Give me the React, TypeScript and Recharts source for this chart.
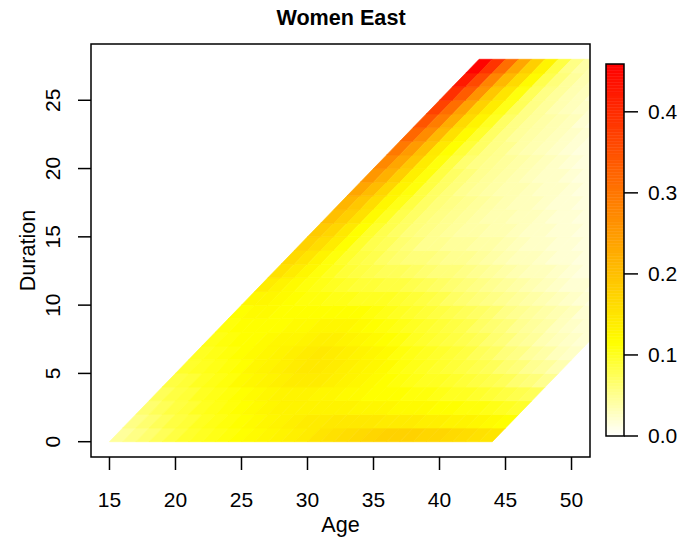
import React from 'react';
import { ComposedChart, XAxis, YAxis, ReferenceArea } from 'recharts';

const FONT = '"Liberation Sans", Arial, Helvetica, sans-serif';

// Entry age (age at start of duration) for each diagonal band of cells
const entryAges = [15, 16, 17, 18, 19, 20, 21, 22, 23, 24, 25, 26, 27, 28, 29, 30, 31, 32, 33, 34, 35, 36, 37, 38, 39, 40, 41, 42, 43];
// Duration (years) for each row of cells
const durations = [0, 1, 2, 3, 4, 5, 6, 7, 8, 9, 10, 11, 12, 13, 14, 15, 16, 17, 18, 19, 20, 21, 22, 23, 24, 25, 26, 27];
// Rate values per duration row, entries by entry age starting at 15 (visible cells only)
const rateRows: number[][] = [
  [0.045, 0.055, 0.065, 0.075, 0.085, 0.095, 0.1, 0.105, 0.11, 0.115, 0.12, 0.125, 0.13, 0.135, 0.14, 0.15, 0.155, 0.16, 0.165, 0.17, 0.175, 0.175, 0.175, 0.17, 0.17, 0.165, 0.16, 0.155, 0.15],
  [0.055, 0.065, 0.075, 0.085, 0.09, 0.1, 0.105, 0.11, 0.115, 0.12, 0.125, 0.13, 0.135, 0.14, 0.14, 0.145, 0.145, 0.145, 0.145, 0.14, 0.14, 0.14, 0.135, 0.135, 0.13, 0.13, 0.125, 0.12, 0.115],
  [0.065, 0.075, 0.085, 0.09, 0.1, 0.105, 0.11, 0.115, 0.12, 0.125, 0.13, 0.13, 0.13, 0.13, 0.13, 0.13, 0.125, 0.125, 0.125, 0.12, 0.12, 0.12, 0.115, 0.115, 0.11, 0.11, 0.105, 0.1, 0.095],
  [0.075, 0.085, 0.09, 0.1, 0.105, 0.11, 0.115, 0.12, 0.125, 0.13, 0.13, 0.13, 0.125, 0.125, 0.12, 0.12, 0.115, 0.115, 0.115, 0.11, 0.11, 0.105, 0.1, 0.1, 0.095, 0.09, 0.085, 0.08, 0.075],
  [0.085, 0.09, 0.1, 0.105, 0.11, 0.12, 0.125, 0.13, 0.135, 0.14, 0.14, 0.14, 0.135, 0.13, 0.125, 0.12, 0.115, 0.11, 0.105, 0.1, 0.1, 0.095, 0.09, 0.085, 0.08, 0.075, 0.065, 0.06, 0.05],
  [0.095, 0.1, 0.105, 0.11, 0.115, 0.125, 0.13, 0.135, 0.14, 0.145, 0.145, 0.14, 0.135, 0.13, 0.125, 0.12, 0.11, 0.105, 0.1, 0.095, 0.09, 0.085, 0.08, 0.075, 0.065, 0.06, 0.05, 0.045, 0.035],
  [0.1, 0.105, 0.11, 0.115, 0.12, 0.125, 0.13, 0.135, 0.14, 0.145, 0.14, 0.135, 0.13, 0.125, 0.12, 0.11, 0.105, 0.1, 0.095, 0.09, 0.085, 0.075, 0.07, 0.06, 0.055, 0.045, 0.04, 0.03, 0.025],
  [0.105, 0.11, 0.115, 0.115, 0.12, 0.125, 0.125, 0.13, 0.135, 0.135, 0.13, 0.125, 0.12, 0.115, 0.11, 0.1, 0.095, 0.09, 0.085, 0.08, 0.075, 0.065, 0.06, 0.05, 0.045, 0.035, 0.03, 0.025, 0.02],
  [0.11, 0.115, 0.115, 0.115, 0.115, 0.12, 0.12, 0.125, 0.125, 0.125, 0.12, 0.115, 0.11, 0.105, 0.1, 0.095, 0.09, 0.085, 0.08, 0.07, 0.065, 0.06, 0.05, 0.045, 0.04, 0.03, 0.025, 0.02, 0.02],
  [0.115, 0.12, 0.12, 0.115, 0.115, 0.115, 0.115, 0.115, 0.115, 0.115, 0.11, 0.105, 0.1, 0.095, 0.09, 0.085, 0.08, 0.075, 0.07, 0.065, 0.055, 0.05, 0.045, 0.04, 0.035, 0.03, 0.02, 0.02],
  [0.125, 0.125, 0.12, 0.115, 0.11, 0.11, 0.105, 0.105, 0.1, 0.1, 0.1, 0.095, 0.09, 0.085, 0.08, 0.07, 0.065, 0.06, 0.055, 0.05, 0.045, 0.04, 0.035, 0.03, 0.025, 0.02, 0.015],
  [0.14, 0.13, 0.12, 0.11, 0.105, 0.1, 0.095, 0.09, 0.09, 0.085, 0.085, 0.08, 0.075, 0.07, 0.065, 0.06, 0.055, 0.05, 0.045, 0.04, 0.035, 0.03, 0.025, 0.02, 0.02, 0.015],
  [0.155, 0.14, 0.125, 0.11, 0.1, 0.09, 0.085, 0.08, 0.075, 0.075, 0.07, 0.065, 0.06, 0.06, 0.055, 0.05, 0.045, 0.04, 0.035, 0.03, 0.03, 0.025, 0.02, 0.015, 0.015],
  [0.165, 0.15, 0.13, 0.11, 0.095, 0.085, 0.08, 0.07, 0.065, 0.06, 0.06, 0.055, 0.05, 0.05, 0.045, 0.04, 0.035, 0.03, 0.03, 0.025, 0.02, 0.02, 0.015, 0.015],
  [0.175, 0.16, 0.14, 0.115, 0.095, 0.08, 0.075, 0.065, 0.06, 0.05, 0.05, 0.045, 0.045, 0.04, 0.04, 0.035, 0.03, 0.025, 0.025, 0.02, 0.02, 0.015, 0.015],
  [0.185, 0.17, 0.145, 0.115, 0.095, 0.08, 0.07, 0.06, 0.055, 0.05, 0.045, 0.04, 0.04, 0.035, 0.035, 0.03, 0.025, 0.025, 0.02, 0.02, 0.015, 0.015],
  [0.2, 0.18, 0.155, 0.12, 0.1, 0.08, 0.07, 0.06, 0.055, 0.05, 0.045, 0.04, 0.035, 0.035, 0.03, 0.03, 0.025, 0.02, 0.02, 0.015, 0.015],
  [0.215, 0.19, 0.16, 0.125, 0.105, 0.085, 0.07, 0.06, 0.055, 0.05, 0.045, 0.04, 0.035, 0.03, 0.03, 0.025, 0.02, 0.02, 0.015, 0.015],
  [0.235, 0.205, 0.17, 0.13, 0.11, 0.085, 0.07, 0.06, 0.05, 0.045, 0.04, 0.035, 0.035, 0.03, 0.025, 0.025, 0.02, 0.015, 0.015],
  [0.255, 0.22, 0.18, 0.135, 0.11, 0.085, 0.07, 0.06, 0.05, 0.045, 0.04, 0.035, 0.03, 0.025, 0.025, 0.02, 0.015, 0.015],
  [0.275, 0.235, 0.19, 0.14, 0.11, 0.085, 0.065, 0.055, 0.05, 0.045, 0.04, 0.035, 0.03, 0.025, 0.02, 0.015, 0.015],
  [0.295, 0.25, 0.2, 0.145, 0.115, 0.09, 0.07, 0.055, 0.05, 0.04, 0.035, 0.03, 0.025, 0.02, 0.015, 0.015],
  [0.32, 0.27, 0.21, 0.155, 0.12, 0.095, 0.07, 0.055, 0.045, 0.04, 0.035, 0.03, 0.025, 0.02, 0.015],
  [0.345, 0.29, 0.225, 0.165, 0.13, 0.1, 0.07, 0.055, 0.045, 0.04, 0.035, 0.03, 0.02, 0.015],
  [0.37, 0.31, 0.24, 0.175, 0.14, 0.105, 0.075, 0.055, 0.045, 0.035, 0.03, 0.025, 0.02],
  [0.395, 0.335, 0.26, 0.19, 0.15, 0.11, 0.075, 0.055, 0.045, 0.035, 0.03, 0.02],
  [0.425, 0.36, 0.28, 0.21, 0.165, 0.12, 0.08, 0.06, 0.045, 0.035, 0.03],
  [0.455, 0.39, 0.31, 0.235, 0.18, 0.13, 0.085, 0.055, 0.04, 0.035],
];

const ageTicks = [15, 20, 25, 30, 35, 40, 45, 50];
const durationTicks = [0, 5, 10, 15, 20, 25];
const legendTicks = [0, 0.1, 0.2, 0.3, 0.4];
const ageDomain: [number, number] = [13.6, 51.4];
const durationDomain: [number, number] = [-1.12, 29.12];
const zMax = 0.459;

// reversed heat.colors ramp: white -> yellow -> orange -> red
function heatColor(v: number): string {
  const t = Math.max(0, Math.min(1, v / zMax));
  if (t < 0.25) {
    const s = t / 0.25;
    const b = Math.round(255 * (1 - s));
    return `rgb(255,255,${b})`;
  }
  const h = (1 / 6) * (1 - (t - 0.25) / 0.75);
  const g = Math.round(255 * h * 6);
  return `rgb(255,${g},0)`;
}

type Cell = { entry: number; dur: number; rate: number };
const cells: Cell[] = [];
durations.forEach((d, di) => {
  rateRows[di].forEach((r, i) => {
    cells.push({ entry: entryAges[i], dur: d, rate: r });
  });
});

const Parallelogram = (props: any) => {
  let { x, y, width, height } = props;
  const { fill, clipPath } = props;
  if (width < 0) { x += width; width = -width; }
  if (height < 0) { y += height; height = -height; }
  const pts = `${x},${y + height} ${x + width},${y + height} ${x + 2 * width},${y} ${x + width},${y}`;
  return <polygon points={pts} fill={fill} stroke={fill} strokeWidth={0.7} clipPath={clipPath} />;
};

const XTick = (props: any) => {
  const { x, y, payload } = props;
  return (
    <text x={x} y={y + 35} textAnchor="middle" fontFamily={FONT} fontSize={21} fill="#000">
      {payload.value}
    </text>
  );
};

const YTick = (props: any) => {
  const { x, y, payload } = props;
  const bx = x - 16;
  return (
    <text x={bx} y={y} transform={`rotate(-90, ${bx}, ${y})`} textAnchor="middle" fontFamily={FONT} fontSize={21} fill="#000">
      {payload.value}
    </text>
  );
};

const legendSteps = 120;
const legendBands = Array.from({ length: legendSteps }, (_, i) => ({
  lo: (i * zMax) / legendSteps,
  hi: ((i + 1) * zMax) / legendSteps,
}));

export default function App() {
  return (
    <div style={{ position: 'absolute', left: 0, top: 0, width: 686, height: 542, background: '#fff' }}>
      <div style={{ position: 'absolute', left: 0, top: 0 }}>
        <ComposedChart width={686} height={542} data={cells} margin={{ top: 44, right: 96, bottom: 0, left: 0 }}>
          <XAxis
            type="number"
            dataKey="entry"
            domain={ageDomain}
            ticks={ageTicks}
            allowDataOverflow
            axisLine={false}
            tickLine={{ stroke: '#000', strokeWidth: 1.5 }}
            tickSize={13}
            tick={<XTick />}
            height={85}
            interval={0}
          />
          <YAxis
            type="number"
            dataKey="dur"
            domain={durationDomain}
            ticks={durationTicks}
            allowDataOverflow
            axisLine={false}
            tickLine={{ stroke: '#000', strokeWidth: 1.5 }}
            tickSize={13}
            tick={<YTick />}
            width={91}
            interval={0}
          />
          {cells.map((c, i) => (
            <ReferenceArea
              key={i}
              x1={c.entry + c.dur}
              x2={c.entry + c.dur + 1}
              y1={c.dur}
              y2={c.dur + 1}
              ifOverflow="hidden"
              fill={heatColor(c.rate)}
              fillOpacity={1}
              shape={Parallelogram}
            />
          ))}
          <ReferenceArea
            x1={ageDomain[0]}
            x2={ageDomain[1]}
            y1={durationDomain[0]}
            y2={durationDomain[1]}
            ifOverflow="visible"
            fill="none"
            stroke="#000"
            strokeWidth={1.5}
          />
        </ComposedChart>
      </div>
      <div style={{ position: 'absolute', left: 0, top: 0 }}>
        <ComposedChart width={686} height={542} data={legendBands} margin={{ top: 64, right: 0, bottom: 106, left: 606 }}>
          <XAxis type="number" dataKey="lo" domain={[0, 1]} hide allowDataOverflow />
          <YAxis
            type="number"
            orientation="right"
            domain={[0, zMax]}
            ticks={legendTicks}
            allowDataOverflow
            axisLine={false}
            tickLine={{ stroke: '#000', strokeWidth: 1.5 }}
            tickSize={14}
            tickMargin={10}
            width={62}
            interval={0}
            tickFormatter={(v: number) => v.toFixed(1)}
            tick={{ fontFamily: FONT, fontSize: 21, fill: '#000' }}
          />
          {legendBands.map((b, i) => (
            <ReferenceArea
              key={i}
              x1={0}
              x2={1}
              y1={b.lo}
              y2={b.hi}
              ifOverflow="hidden"
              fill={heatColor((b.lo + b.hi) / 2)}
              fillOpacity={1}
              stroke={heatColor((b.lo + b.hi) / 2)}
              strokeWidth={0.5}
            />
          ))}
          <ReferenceArea x1={0} x2={1} y1={0} y2={zMax} ifOverflow="visible" fill="none" stroke="#000" strokeWidth={1.5} />
        </ComposedChart>
      </div>
      <svg width={686} height={542} style={{ position: 'absolute', left: 0, top: 0, pointerEvents: 'none' }}>
        <text x={341} y={25} textAnchor="middle" fontFamily={FONT} fontSize={21.6} fontWeight="bold" fill="#000">
          Women East
        </text>
        <text x={340.5} y={532} textAnchor="middle" fontFamily={FONT} fontSize={21.6} fill="#000">
          Age
        </text>
        <text x={35} y={250.5} textAnchor="middle" fontFamily={FONT} fontSize={21.6} fill="#000" transform="rotate(-90, 35, 250.5)">
          Duration
        </text>
      </svg>
    </div>
  );
}
